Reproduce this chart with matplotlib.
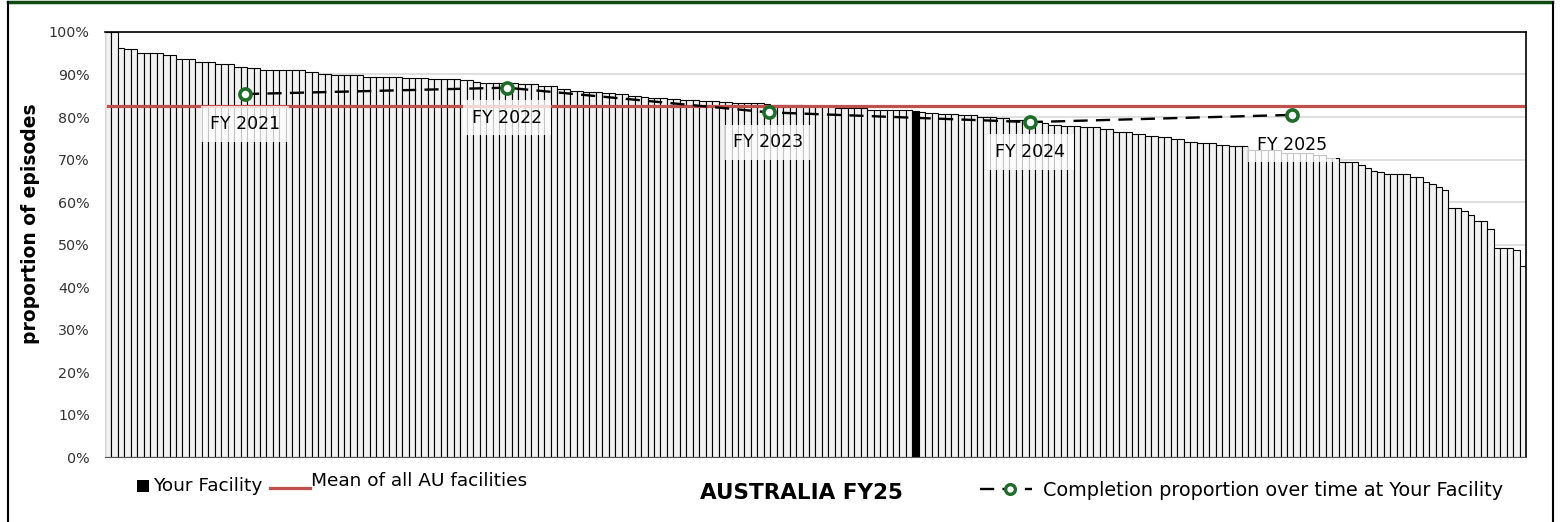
import numpy as np
import matplotlib.pyplot as plt
from matplotlib.patches import Rectangle
from matplotlib.lines import Line2D

# proportion of episodes completed, all AU facilities FY25, sorted high to low
facility_pct = [
    100.0, 100.0, 96.2, 95.9, 95.9, 95.1, 95.1, 95.1, 95.1, 94.7,
    94.7, 93.7, 93.7, 93.7, 93.0, 93.0, 93.0, 92.5, 92.5, 92.5,
    91.8, 91.8, 91.5, 91.5, 91.0, 91.0, 91.0, 91.0, 91.0, 91.0,
    91.0, 90.6, 90.6, 90.2, 90.2, 89.8, 89.8, 89.8, 89.8, 89.8,
    89.5, 89.5, 89.5, 89.5, 89.5, 89.5, 89.1, 89.1, 89.1, 89.1,
    88.9, 88.9, 88.9, 88.9, 88.9, 88.7, 88.7, 88.3, 88.0, 88.0,
    88.0, 87.9, 87.9, 87.9, 87.7, 87.7, 87.7, 87.2, 87.2, 87.2,
    86.5, 86.5, 86.2, 86.2, 85.8, 85.8, 85.8, 85.6, 85.6, 85.4,
    85.4, 85.0, 85.0, 84.8, 84.4, 84.4, 84.4, 84.2, 84.2, 84.0,
    84.0, 84.0, 83.8, 83.8, 83.8, 83.5, 83.5, 83.4, 83.4, 83.4,
    83.4, 83.4, 83.1, 82.8, 82.8, 82.8, 82.8, 82.8, 82.5, 82.5,
    82.5, 82.5, 82.5, 82.1, 82.1, 82.1, 82.1, 82.1, 81.7, 81.7,
    81.7, 81.7, 81.7, 81.7, 81.7, 81.5, 81.1, 80.9, 80.9, 80.8,
    80.8, 80.8, 80.5, 80.5, 80.5, 80.0, 80.0, 80.0, 79.7, 79.7,
    79.4, 79.4, 79.4, 79.0, 79.0, 78.6, 78.2, 78.2, 77.9, 77.9,
    77.9, 77.6, 77.6, 77.6, 77.2, 77.2, 76.5, 76.5, 76.5, 76.1,
    76.1, 75.6, 75.6, 75.3, 75.3, 74.9, 74.9, 74.2, 74.2, 73.8,
    73.8, 73.8, 73.4, 73.4, 73.1, 73.1, 73.1, 72.3, 72.3, 72.3,
    72.3, 72.3, 71.5, 71.5, 71.5, 71.5, 71.5, 71.1, 71.1, 70.4,
    70.4, 69.3, 69.3, 69.3, 68.6, 68.1, 67.4, 67.0, 66.7, 66.7,
    66.7, 66.7, 66.0, 66.0, 64.8, 64.2, 63.6, 62.9, 58.5, 58.5,
    57.8, 57.0, 55.5, 55.5, 53.6, 49.1, 49.1, 49.1, 48.7, 45.0,
]
your_facility_rank = 125
au_mean = 82.5

# completion proportion over time at your facility
years = ["FY 2021", "FY 2022", "FY 2023", "FY 2024", "FY 2025"]
your_pct = [85.4, 86.9, 81.1, 78.8, 80.5]

RED = '#c0504d'
GREEN = '#1e6b2a'
DASH = (0, (6, 3.5))

plt.rcParams['font.family'] = ['DejaVu Sans']

fig = plt.figure(figsize=(15.6, 5.22), dpi=100)
ax = fig.add_axes([0.0673, 0.1245, 0.9109, 0.8142])

n = len(facility_pct)
colors = ['#f2f2f2'] * n
colors[your_facility_rank] = 'black'
ax.bar(np.arange(n), facility_pct, width=1.0, color=colors,
       edgecolor='black', linewidth=0.8, zorder=2)
ax.set_xlim(-0.5, n - 0.5)
ax.set_ylim(0, 100)
ax.set_yticks(range(0, 101, 10))
ax.set_yticklabels([f"{v}%" for v in range(0, 101, 10)], fontsize=10.3, color='#333333')
ax.set_xticks([])
ax.tick_params(axis='y', length=0, pad=11)
ax.grid(axis='y', color='#d9d9d9', linewidth=1.2, zorder=0)
ax.set_ylabel("proportion of episodes", fontsize=13.5, fontweight='bold')
ax.yaxis.set_label_coords(-0.046, 0.55)
for side in ['top', 'right']:
    ax.spines[side].set_color('black')
    ax.spines[side].set_linewidth(1.2)
ax.spines['left'].set_color('#d9d9d9')
ax.spines['bottom'].set_color('#555555')

# mean of all facilities
ax.axhline(au_mean, xmin=0.002, xmax=0.998, color=RED, linewidth=2.3, zorder=3)

# trend over time on a secondary category axis
ax2 = ax.twiny()
ax2.set_xlim(-0.535, 4.894)
ax2.set_ylim(0, 100)
ax2.axis('off')
ax2.plot(range(len(years)), your_pct, color='black', linestyle=DASH, linewidth=1.7,
         marker='o', markersize=8, markerfacecolor='white', markeredgecolor=GREEN,
         markeredgewidth=2.6, zorder=5)
for i, (lab, v) in enumerate(zip(years, your_pct)):
    ax2.annotate(lab, (i, v), xytext=(0, -21.5), textcoords='offset points',
                 ha='center', va='center', fontsize=12.5,
                 bbox=dict(boxstyle='square,pad=0.5', facecolor='white', alpha=0.78, edgecolor='none'),
                 zorder=6)

# legend row along the bottom
fig.add_artist(Rectangle((137 / 1560, 1 - 492 / 522), 12 / 1560, 12 / 522,
                         transform=fig.transFigure, facecolor='black', edgecolor='none'))
fig.text(153 / 1560, 1 - 486 / 522, "Your Facility", ha='left', va='center', fontsize=13.3)
fig.add_artist(Line2D([270 / 1560, 310 / 1560], [1 - 488 / 522, 1 - 488 / 522],
                      transform=fig.transFigure, color=RED, linewidth=2.3))
fig.text(311 / 1560, 1 - 481 / 522, "Mean of all AU facilities", ha='left', va='center', fontsize=13.3)

fig.text(801 / 1560, 1 - 493 / 522, "AUSTRALIA FY25", ha='center', va='center',
         fontsize=15.5, fontweight='bold')

fig.add_artist(Line2D([980 / 1560, 1032 / 1560], [1 - 489 / 522, 1 - 489 / 522],
                      transform=fig.transFigure, color='black', linestyle=DASH, linewidth=1.7))
fig.add_artist(Line2D([1010 / 1560], [1 - 489 / 522], transform=fig.transFigure,
                      marker='o', markersize=7, markerfacecolor='white',
                      markeredgecolor=GREEN, markeredgewidth=2.4))
fig.text(1043 / 1560, 1 - 490 / 522, "Completion proportion over time at Your Facility",
         ha='left', va='center', fontsize=13.9)

# outer frame
fig.add_artist(Line2D([0.005, 0.995], [0.997, 0.997], transform=fig.transFigure,
                      color='#0f4a14', linewidth=2.5))
fig.add_artist(Line2D([0.005, 0.005], [0, 0.997], transform=fig.transFigure,
                      color='black', linewidth=1.5))
fig.add_artist(Line2D([0.9955, 0.9955], [0, 0.997], transform=fig.transFigure,
                      color='black', linewidth=1.5))

fig.savefig("out.png", dpi=100)
